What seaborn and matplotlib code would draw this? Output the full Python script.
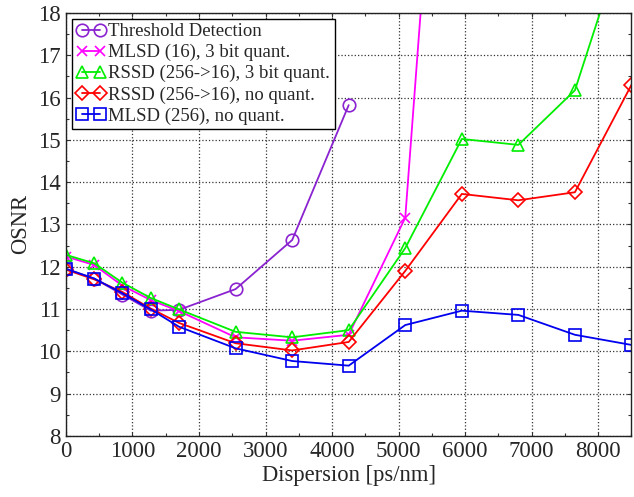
import matplotlib
matplotlib.use('Agg')
import matplotlib.pyplot as plt
from matplotlib.ticker import MultipleLocator
import pandas as pd
import seaborn as sns

# dispersion points (ps/nm)
disp = [0, 425, 850, 1275, 1700, 2550, 3400, 4250, 5100, 5950, 6800, 7650, 8500]

thresh = [11.95, 11.72, 11.34, 10.96, 10.98, 11.47, 12.63, 15.82]
mlsd16_q3 = [12.24, 12.04, 11.55, 11.21, 10.95, 10.33, 10.25, 10.39, 13.16, 31.0]
rssd_q3 = [12.28, 12.08, 11.62, 11.26, 10.99, 10.46, 10.33, 10.5, 12.44, 15.02, 14.88, 16.17, 20.3]
rssd_noq = [11.93, 11.7, 11.4, 11.01, 10.67, 10.19, 10.02, 10.22, 11.9, 13.72, 13.57, 13.76, 16.3]
mlsd256_noq = [11.95, 11.72, 11.37, 10.99, 10.58, 10.07, 9.77, 9.66, 10.62, 10.96, 10.86, 10.39, 10.15]

names = ['Threshold Detection', 'MLSD (16), 3 bit quant.', 'RSSD (256->16), 3 bit quant.',
         'RSSD (256->16), no quant.', 'MLSD (256), no quant.']
colors = ['#8A22D0', '#FF00FF', '#00EE00', '#FF0000', '#0000EE']
markers = ['o', 'x', '^', 'D', 's']
msizes = [9, 7, 9, 7.5, 8]

series = [thresh, mlsd16_q3, rssd_q3, rssd_noq, mlsd256_noq]

sns.set_style('ticks')
plt.rcParams['font.family'] = ['Liberation Serif', 'DejaVu Serif']

fig = plt.figure(figsize=(6.34, 4.97), dpi=100)
ax = fig.add_axes([0.104, 0.123, 0.892, 0.851])

for name, vals, c, m, ms in zip(names, series, colors, markers, msizes):
    df = pd.DataFrame({'Dispersion': disp[:len(vals)], 'OSNR': vals})
    sns.lineplot(data=df, x='Dispersion', y='OSNR', ax=ax, color=c, marker=m,
                 markersize=ms, mfc='none', mec=c, mew=1.2, lw=1.3, label=name)

ax.set_xlim(0, 8500)
ax.set_ylim(8, 18)
ax.xaxis.set_major_locator(MultipleLocator(1000))
ax.xaxis.set_minor_locator(MultipleLocator(500))
ax.yaxis.set_major_locator(MultipleLocator(1))
ax.yaxis.set_minor_locator(MultipleLocator(0.5))
ax.tick_params(which='both', direction='in', top=True, right=True, labelsize=16.5,
               color='#333333', pad=4)
ax.tick_params(which='major', length=3, width=0.8)
ax.tick_params(which='minor', length=2, width=0.8)
ax.grid(True, which='major', ls=':', color='#333333', lw=0.9)
for sp in ax.spines.values():
    sp.set_color('#222222')
    sp.set_linewidth(1.0)

ax.set_xlabel('Dispersion [ps/nm]', fontsize=16.3, labelpad=2)
ax.set_ylabel('OSNR', fontsize=16.3, labelpad=5)

leg = ax.legend(loc='upper left', numpoints=2, fontsize=13.5, handlelength=1.55,
                handletextpad=0.15, labelspacing=0.2, borderpad=0.25,
                borderaxespad=0.3, fancybox=False, framealpha=1)
leg.get_frame().set_edgecolor('black')
leg.get_frame().set_linewidth(1.0)

fig.savefig('out.png', dpi=100)
